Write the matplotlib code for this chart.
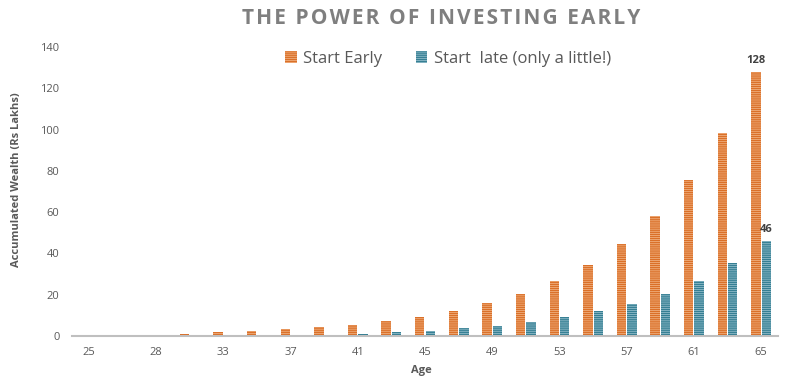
import matplotlib
matplotlib.use("Agg")
import matplotlib.pyplot as plt
import numpy as np

ages = ["25", "26", "28", "31", "33", "35", "37", "39", "41", "43", "45",
        "47", "49", "51", "53", "55", "57", "59", "61", "63", "65"]
start_early = [0, 0, 0, 0.8, 1.9, 2.4, 3.4, 4.4, 5.3, 7.1, 9.2,
               12.1, 16.0, 20.3, 26.6, 34.5, 44.6, 58.2, 75.6, 98.5, 128]
start_late = [0, 0, 0, 0, 0, 0, 0, 0.7, 0.8, 1.8, 2.4,
              3.9, 4.8, 6.8, 9.2, 12.1, 15.5, 20.4, 26.8, 35.5, 46]
series_names = ["Start Early", "Start  late (only a little!)"]
title = "THE POWER OF INVESTING EARLY"

plt.rcParams['font.family'] = ['Open Sans', 'DejaVu Sans']
plt.rcParams['hatch.linewidth'] = 1.0

fig = plt.figure(figsize=(7.88, 3.85), dpi=100)
ax = fig.add_axes([72/788, 1-336/385, (778-72)/788, (336-47)/385])

x = np.arange(len(ages))
w = 0.28
off = 0.155
b1 = ax.bar(x - off, start_early, w, facecolor='#F4BB8E', edgecolor='#DA7029',
            linewidth=0, hatch='-'*8, label=series_names[0])
b2 = ax.bar(x + off, start_late, w, facecolor='#A3C8D5', edgecolor='#367F93',
            linewidth=0, hatch='-'*8, label=series_names[1])

ax.set_xlim(-0.5, len(ages) - 0.5)
ax.set_ylim(0, 140)
ax.set_yticks(range(0, 141, 20))
ax.set_xticks(x[::2])
ax.set_xticklabels(ages[::2])
for s in ['top', 'right', 'left']:
    ax.spines[s].set_visible(False)
ax.spines['bottom'].set_color('#BFBFBF')
ax.spines['bottom'].set_linewidth(1.5)
ax.tick_params(axis='both', length=0, labelsize=8, colors='#595959')
ax.tick_params(axis='x', pad=8)
ax.tick_params(axis='y', pad=9)

ax.set_xlabel('Age', fontsize=8, fontweight='bold', color='#595959')
ax.xaxis.set_label_coords((421-72)/706, -(365-336)/289)
ax.set_ylabel('Accumulated Wealth (Rs Lakhs)', fontsize=8, fontweight='bold', color='#595959')
ax.yaxis.set_label_coords(-(72-22)/706, (336-180)/289)

ax.text(x[-1] - off, start_early[-1] + 3, f"{start_early[-1]:.0f}", ha='center', va='bottom',
        fontsize=8, fontweight='bold', color='#404040')
ax.text(x[-1] + off, start_late[-1] + 3, f"{start_late[-1]:.0f}", ha='center', va='bottom',
        fontsize=8, fontweight='bold', color='#404040')

fig.text(441/788, 1-19/385, '\u200a'.join(title), ha='center', va='center',
         fontsize=15, fontweight='bold', color='#7F7F7F')

leg = fig.legend(handles=[b1, b2], loc='center', bbox_to_anchor=(448/788, 1-59/385),
                 ncol=2, frameon=False, fontsize=12, handlelength=0.7, handleheight=0.7,
                 handletextpad=0.4, columnspacing=2.0, labelcolor='#595959')

fig.savefig('out.png', dpi=100, facecolor='white')
